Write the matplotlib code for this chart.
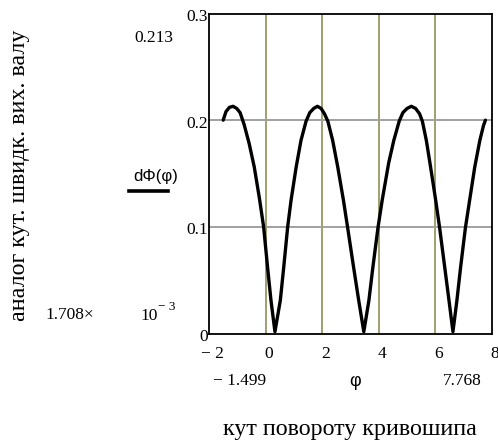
import matplotlib
matplotlib.use("Agg")
import matplotlib.pyplot as plt
from matplotlib.lines import Line2D
from matplotlib import transforms

# values
phi = [-1.499, -1.40, -1.28, -1.15, -1.02, -0.90, -0.76, -0.58, -0.40, -0.22,
       -0.07, 0.07, 0.19, 0.33,
       0.52, 0.64, 0.78, 0.90, 1.08, 1.25, 1.43, 1.56, 1.70, 1.83,
       1.96, 2.08, 2.20, 2.37, 2.55, 2.75, 2.90, 3.11, 3.29, 3.47,
       3.65, 3.79, 3.97, 4.12, 4.35, 4.53, 4.72, 4.85, 5.00, 5.15,
       5.30, 5.44, 5.54, 5.68, 5.83, 6.01, 6.15, 6.33, 6.48, 6.62,
       6.76, 6.89, 7.06, 7.21, 7.39, 7.57, 7.70, 7.768]
dphi = [0.200, 0.208, 0.212, 0.213, 0.211, 0.207, 0.196, 0.178, 0.156, 0.127,
        0.100, 0.062, 0.031, 0.0017,
        0.031, 0.062, 0.100, 0.125, 0.156, 0.181, 0.199, 0.207, 0.211, 0.213,
        0.211, 0.206, 0.199, 0.181, 0.156, 0.125, 0.099, 0.062, 0.031, 0.0017,
        0.031, 0.062, 0.099, 0.125, 0.160, 0.181, 0.199, 0.207, 0.211, 0.213,
        0.211, 0.206, 0.199, 0.181, 0.156, 0.125, 0.099, 0.062, 0.031, 0.0017,
        0.031, 0.062, 0.099, 0.125, 0.156, 0.181, 0.195, 0.200]

x_ticks = [-2, 0, 2, 4, 6, 8]
x_tick_labels = ["\u2212 2", "0", "2", "4", "6", "8"]
y_ticks = [0, 0.1, 0.2, 0.3]
y_tick_labels = ["0", "0.1", "0.2", "0.3"]
x_grid = [0, 2, 4, 6]
y_grid = [0.1, 0.2]

serif = "Liberation Serif"
sans = "Liberation Sans"

W, H = 498, 441
fig = plt.figure(figsize=(W / 100, H / 100), dpi=100)
ax = fig.add_axes([209 / W, 1 - 333.5 / H, (492 - 209) / W, (333.5 - 13.5) / H])

ax.set_xlim(-2, 8)
ax.set_ylim(0, 0.3)
for xv in x_grid:
    ax.axvline(xv, color="#a0a06c", lw=1.4, zorder=1)
for yv in y_grid:
    ax.axhline(yv, color="#a0a0a0", lw=1.4, zorder=1)

ax.plot(phi, dphi, color="black", lw=2.4, solid_joinstyle="round",
        solid_capstyle="round", zorder=3)

for s in ax.spines.values():
    s.set_linewidth(1.3)
    s.set_color("black")
ax.set_xticks([])
ax.set_yticks([])

# y tick labels (Mathcad style: just left of axis, a bit below the value)
ytr = transforms.offset_copy(ax.get_yaxis_transform(), fig=fig, x=-1, y=-3.5, units="dots")
for v, lab in zip(y_ticks, y_tick_labels):
    ax.text(0, v, lab, transform=ytr, ha="right", va="center",
            family=serif, fontsize=12.5, clip_on=False)

# x tick labels
xtr = transforms.offset_copy(ax.get_xaxis_transform(), fig=fig, x=3, y=-12, units="dots")
for v, lab in zip(x_ticks, x_tick_labels):
    ax.text(v, 0, lab, transform=xtr, ha="center", va="top",
            family=serif, fontsize=12.5, clip_on=False)

# range labels
fig.text(213 / W, 1 - 381 / H, "\u2212 1.499", ha="left", va="center", family=serif, fontsize=12.5)
fig.text(482 / W, 1 - 381 / H, "7.768", ha="right", va="center", family=serif, fontsize=12.5)
fig.text(355 / W, 1 - 382 / H, "\u03c6", ha="center", va="center", family=sans, fontsize=13)
fig.text(154 / W, 1 - 38 / H, "0.213", ha="center", va="center", family=serif, fontsize=12.5)
fig.text(70 / W, 1 - 315 / H, "1.708\u00d7", ha="center", va="center", family=serif, fontsize=12.5)
fig.text(140 / W, 1 - 320 / H, "10", ha="left", va="baseline", family=serif, fontsize=12.5)
fig.text(158 / W, 1 - 307 / H, "\u2212 3", ha="left", va="center", family=serif, fontsize=9.5)

# legend-like trace label
fig.text(156 / W, 1 - 177 / H, "d\u03a6(\u03c6)", ha="center", va="center", family=sans, fontsize=12)
fig.add_artist(Line2D([129 / W, 168 / W], [1 - 191 / H, 1 - 191 / H],
                      transform=fig.transFigure, color="black", lw=2.6))

# axis titles
fig.text(20 / W, 1 - 175 / H, "аналог кут. швидк. вих. валу", rotation=90,
         ha="center", va="center", family=serif, fontsize=17.3)
fig.text(350 / W, 1 - 430 / H, "кут повороту кривошипа", ha="center", va="center",
         family=serif, fontsize=17.3)

fig.savefig("out.png", dpi=100)
